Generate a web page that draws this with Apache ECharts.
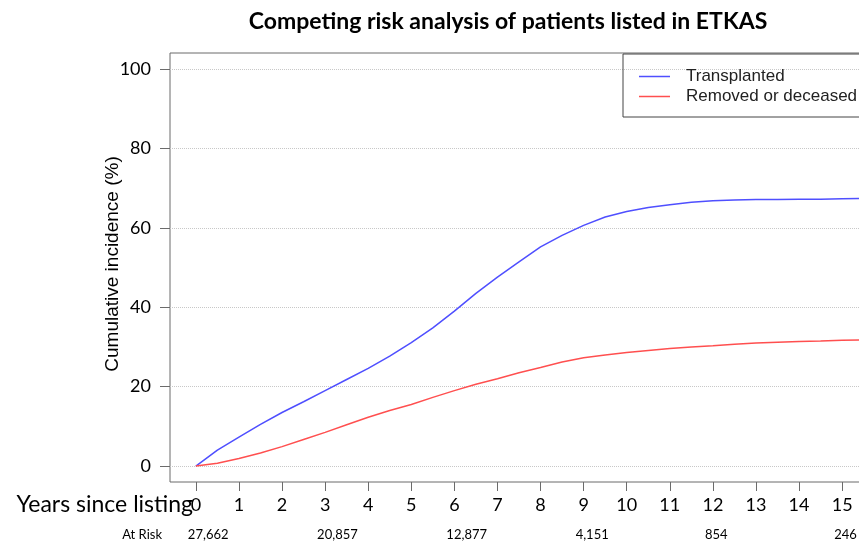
<!DOCTYPE html>
<html>
<head>
<meta charset="utf-8">
<script src="https://cdn.jsdelivr.net/npm/echarts@6/dist/echarts.min.js"></script>
<style>
html,body{margin:0;padding:0;background:#fff;}
#c{width:859px;height:542px;}
</style>
</head>
<body>
<div id="c"></div>
<script>
// ---- data ----
const years = [0, 0.5, 1, 1.5, 2, 2.5, 3, 3.5, 4, 4.5, 5, 5.5, 6, 6.5, 7, 7.5, 8, 8.5, 9, 9.5, 10, 10.5, 11, 11.5, 12, 12.5, 13, 13.5, 14, 14.5, 15, 15.6];
const transplanted = [0, 4.0, 7.3, 10.5, 13.5, 16.2, 19.0, 21.8, 24.6, 27.7, 31.1, 34.8, 39.0, 43.5, 47.6, 51.4, 55.2, 58.1, 60.6, 62.7, 64.1, 65.1, 65.8, 66.4, 66.8, 67.0, 67.1, 67.1, 67.2, 67.2, 67.3, 67.4];
const removed = [0, 0.7, 1.9, 3.3, 4.9, 6.7, 8.5, 10.4, 12.3, 14.0, 15.5, 17.3, 19.0, 20.6, 22.0, 23.5, 24.8, 26.2, 27.3, 28.0, 28.6, 29.1, 29.6, 30.0, 30.3, 30.7, 31.0, 31.2, 31.4, 31.5, 31.7, 31.8];
const xTicks = [0,1,2,3,4,5,6,7,8,9,10,11,12,13,14,15];
const yTicks = [0,20,40,60,80,100];
const atRiskYears = [0,3,6,9,12,15];
const atRiskCounts = ['27,662','20,857','12,877','4,151','854','246'];
const seriesNames = ['Transplanted','Removed or deceased'];
const titleText = 'Competing risk analysis of patients listed in ETKAS';
const yName = 'Cumulative incidence (%)';
const xName = 'Years since listing';
const atRiskName = 'At Risk';

const chart = echarts.init(document.getElementById('c'), null, {renderer:'canvas'});
const calib = 'Lato, "Open Sans", sans-serif';
const arial = '"Liberation Sans", Arial, sans-serif';
const frameColor = '#6b6b6b';
const blue = '#4f4fff', red = '#ff4f4f';

const option = {
  animation: false,
  backgroundColor: '#fff',
  grid: [
    {left:170, top:53, width:698, height:429, show:true, borderColor:frameColor, borderWidth:1, backgroundColor:'transparent', containLabel:false, outerBoundsMode:'none'},
    {left:162, top:53, width:698, height:429, show:false, containLabel:false, outerBoundsMode:'none'}
  ],
  xAxis: [
    {type:'value', gridIndex:0, min:-0.6, max:15.6,
     axisLine:{show:false, onZero:false},
     axisTick:{show:true, customValues:xTicks, length:9, lineStyle:{color:frameColor, width:1}},
     axisLabel:{customValues:xTicks, margin:14, fontFamily:calib, fontSize:18, color:'#000'},
     splitLine:{show:false}},
    {type:'value', gridIndex:1, min:-0.6, max:15.6,
     axisLine:{show:false, onZero:false}, axisTick:{show:false}, splitLine:{show:false},
     axisLabel:{customValues:atRiskYears, margin:46, align:'left', fontFamily:calib, fontSize:13, color:'#000',
       formatter: v => { const i = atRiskYears.indexOf(Math.round(v)); return i>=0 ? atRiskCounts[i] : ''; }}}
  ],
  yAxis: [
    {type:'value', gridIndex:0, min:-4, max:104,
     axisLine:{show:false, onZero:false},
     axisTick:{show:true, customValues:yTicks, length:10, lineStyle:{color:frameColor, width:1}},
     axisLabel:{customValues:yTicks, margin:19, fontFamily:calib, fontSize:18, color:'#000'},
     splitLine:{show:false}},
    {type:'value', gridIndex:1, show:false, min:-4, max:104, axisLine:{onZero:false}}
  ],
  legend: {
    orient:'vertical', left:623, top:54,
    padding:[14, 40, 12, 16],
    borderColor:'#444', borderWidth:1,
    itemWidth:31, itemHeight:1.5, itemGap:3,
    icon:'rect',
    data: seriesNames,
    textStyle:{fontFamily:arial, fontSize:17, color:'#222', padding:[0,0,0,11]}
  },
  series: [
    {name:seriesNames[0], type:'line', xAxisIndex:0, yAxisIndex:0, showSymbol:false, symbol:'none',
     data: years.map((x,i)=>[x, transplanted[i]]),
     lineStyle:{color:blue, width:1.5}, itemStyle:{color:blue}, z:3,
     markLine:{silent:true, symbol:['none','none'], label:{show:false}, z:1,
       lineStyle:{type:'dotted', color:'#c8c8c8', width:1},
       emphasis:{disabled:true},
       data: yTicks.map(v=>({yAxis:v}))}},
    {name:seriesNames[1], type:'line', xAxisIndex:0, yAxisIndex:0, showSymbol:false, symbol:'none',
     data: years.map((x,i)=>[x, removed[i]]),
     lineStyle:{color:red, width:1.5}, itemStyle:{color:red}, z:3}
  ],
  graphic: [
    {type:'text', x:508, y:22, style:{text:titleText, font:'bold 23px ' + calib, fill:'#000', textAlign:'center', textVerticalAlign:'middle'}},
    {type:'text', x:113, y:264, rotation:Math.PI/2, style:{text:yName, font:'19px ' + arial, fill:'#000', textAlign:'center', textVerticalAlign:'middle'}},
    {type:'text', x:193, y:505, style:{text:xName, font:'23px ' + calib, fill:'#000', textAlign:'right', textVerticalAlign:'middle'}},
    {type:'text', x:162, y:535, style:{text:atRiskName, font:'13px ' + calib, fill:'#000', textAlign:'right', textVerticalAlign:'middle'}}
  ]
};
chart.setOption(option);
</script>
</body>
</html>
